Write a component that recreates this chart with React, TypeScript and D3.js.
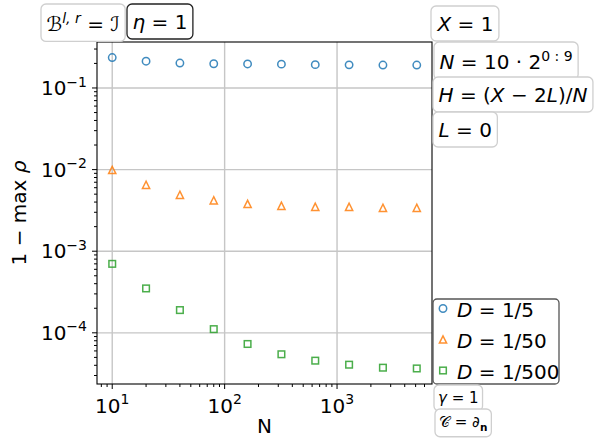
import { useEffect, useRef } from 'react';
import * as d3 from 'd3';

// N = 10 * 2^(0:9)
const nValues = [10, 20, 40, 80, 160, 320, 640, 1280, 2560, 5120];
const seriesLabels = ['1/5', '1/50', '1/500'];
const rhoD5 = [0.236, 0.213, 0.202, 0.198, 0.197, 0.196, 0.193, 0.192, 0.191, 0.191];
const rhoD50 = [0.0099, 0.0065, 0.0049, 0.0042, 0.0038, 0.0036, 0.0035, 0.0035, 0.0034, 0.0034];
const rhoD500 = [0.0007, 0.00035, 0.00019, 0.000111, 0.000073, 0.0000546, 0.0000456, 0.0000407, 0.0000374, 0.0000366];
const xTickExps = [1, 2, 3];
const yTickExps = [-1, -2, -3, -4];
const colors = ['#1f77b4', '#ff7f0e', '#2ca02c'];
const markers = ['circle', 'triangle', 'square'];

const FONT = 'DejaVu Sans';

type Part = { t: string; i?: boolean; sup?: boolean; sub?: boolean; b?: boolean };

function rich(sel: any, parts: Part[], fs: number) {
  let shift = 0;
  parts.forEach(p => {
    const target = p.sup ? -0.42 * fs : p.sub ? 0.25 * fs : 0;
    sel
      .append('tspan')
      .attr('dy', target - shift)
      .attr('font-size', p.sup || p.sub ? fs * 0.7 : fs)
      .attr('font-style', p.i ? 'italic' : 'normal')
      .attr('font-weight', p.b ? 'bold' : 'normal')
      .text(p.t);
    shift = target;
  });
}

function textBox(svg: any, bx: number, by: number, parts: Part[], fs: number, stroke: string, pad = 5.5) {
  const g = svg.append('g');
  const rect = g.append('rect');
  const txt = g
    .append('text')
    .attr('x', 0)
    .attr('y', 0)
    .attr('font-size', fs)
    .style('white-space', 'pre');
  rich(txt, parts, fs);
  const bb = txt.node().getBBox();
  rect
    .attr('x', bb.x - pad)
    .attr('y', bb.y - pad)
    .attr('width', bb.width + 2 * pad)
    .attr('height', bb.height + 2 * pad)
    .attr('rx', 5)
    .attr('fill', '#fff')
    .attr('stroke', stroke)
    .attr('stroke-width', 1.3);
  g.attr('transform', `translate(${bx - bb.x + pad},${by - bb.y + pad})`);
}

function drawMarker(g: any, kind: string, color: string, cx: number, cy: number) {
  if (kind === 'circle') {
    g.append('circle').attr('cx', cx).attr('cy', cy).attr('r', 3.7)
      .attr('fill', 'none').attr('stroke', color).attr('stroke-width', 1.5).attr('opacity', 0.85);
  } else if (kind === 'triangle') {
    const s = 3.6;
    g.append('path')
      .attr('d', `M${cx},${cy - s}L${cx - s},${cy + s}L${cx + s},${cy + s}Z`)
      .attr('fill', 'none').attr('stroke', color).attr('stroke-width', 1.5).attr('opacity', 0.85);
  } else {
    const s = 3.3;
    g.append('rect').attr('x', cx - s).attr('y', cy - s).attr('width', 2 * s).attr('height', 2 * s)
      .attr('fill', 'none').attr('stroke', color).attr('stroke-width', 1.5).attr('opacity', 0.85);
  }
}

function Chart() {
  const ref = useRef<SVGSVGElement>(null);

  useEffect(() => {
    const w = 598;
    const h = 446;
    const left = 97;
    const right = 432;
    const top = 42;
    const bottom = 384;

    const svg = d3.select(ref.current).attr('width', w).attr('height', h);
    svg.selectAll('*').remove();
    svg.attr('font-family', FONT);

    const series = [rhoD5, rhoD50, rhoD500];

    // matplotlib-style 5% margins in log space
    const lx = d3.extent(nValues.map(Math.log10)) as [number, number];
    const mx = (lx[1] - lx[0]) * 0.05;
    const ly = d3.extent(series.flat().map(Math.log10)) as [number, number];
    const my = (ly[1] - ly[0]) * 0.05;

    const x = d3.scaleLog().domain([10 ** (lx[0] - mx), 10 ** (lx[1] + mx)]).range([left, right]);
    const y = d3.scaleLog().domain([10 ** (ly[0] - my), 10 ** (ly[1] + my)]).range([bottom, top]);

    // grid
    const grid = svg.append('g').attr('stroke', '#c6c6c6').attr('stroke-width', 1.4);
    xTickExps.forEach(e => {
      grid.append('line').attr('x1', x(10 ** e)).attr('x2', x(10 ** e)).attr('y1', top).attr('y2', bottom);
    });
    yTickExps.forEach(e => {
      grid.append('line').attr('x1', left).attr('x2', right).attr('y1', y(10 ** e)).attr('y2', y(10 ** e));
    });

    // ticks
    const ticks = svg.append('g').attr('stroke', '#000').attr('stroke-width', 1);
    x.ticks().forEach(t => {
      const major = xTickExps.some(e => Math.abs(t - 10 ** e) < 1e-9);
      const len = major ? 5 : 3;
      ticks.append('line').attr('x1', x(t)).attr('x2', x(t)).attr('y1', bottom).attr('y2', bottom + len);
    });
    y.ticks().forEach(t => {
      const major = yTickExps.some(e => Math.abs(t / 10 ** e - 1) < 1e-9);
      const len = major ? 5 : 3;
      ticks.append('line').attr('x1', left - len).attr('x2', left).attr('y1', y(t)).attr('y2', y(t));
    });

    xTickExps.forEach(e => {
      const t = svg.append('text')
        .attr('x', x(10 ** e))
        .attr('y', 412.5)
        .attr('text-anchor', 'middle')
        .attr('font-size', 20);
      rich(t, [{ t: '10' }, { t: String(e), sup: true }], 20);
    });
    yTickExps.forEach(e => {
      const t = svg.append('text')
        .attr('x', 87)
        .attr('y', y(10 ** e) + 7)
        .attr('text-anchor', 'end')
        .attr('font-size', 20);
      rich(t, [{ t: '10' }, { t: '\u2212' + Math.abs(e), sup: true }], 20);
    });

    // axis labels
    svg.append('text')
      .attr('x', (left + right) / 2)
      .attr('y', 433)
      .attr('text-anchor', 'middle')
      .attr('font-size', 20)
      .text('N');
    const yl = svg.append('text')
      .attr('transform', `translate(26,${(top + bottom) / 2}) rotate(-90)`)
      .attr('text-anchor', 'middle')
      .attr('font-size', 20)
      .style('white-space', 'pre');
    rich(yl, [{ t: '1 \u2212 max ' }, { t: '\u03c1', i: true }], 20);

    // data
    const marks = svg.append('g');
    series.forEach((vals, si) => {
      vals.forEach((v, i) => drawMarker(marks, markers[si], colors[si], x(nValues[i]), y(v)));
    });

    // spines
    svg.append('rect')
      .attr('x', left).attr('y', top)
      .attr('width', right - left).attr('height', bottom - top)
      .attr('fill', 'none').attr('stroke', '#000').attr('stroke-width', 1.1);

    // annotation boxes
    const light = '#cfcfcf';
    textBox(svg, 41, 4, [{ t: '\u212c' }, { t: 'l, r', sup: true, i: true }, { t: ' = \u2110' }], 20, light);
    textBox(svg, 127, 4, [{ t: '\u03b7', i: true }, { t: ' = 1' }], 20, '#222');
    textBox(svg, 431, 6, [{ t: 'X', i: true }, { t: ' = 1' }], 20, light);
    textBox(svg, 434, 42, [{ t: 'N', i: true }, { t: ' = 10 \u00b7 2' }, { t: '0 : 9', sup: true }], 20, light);
    textBox(svg, 433, 77, [
      { t: 'H', i: true }, { t: ' = (' }, { t: 'X', i: true }, { t: ' \u2212 2' }, { t: 'L', i: true },
      { t: ')/' }, { t: 'N', i: true },
    ], 20, light);
    textBox(svg, 433, 112, [{ t: 'L', i: true }, { t: ' = 0' }], 20, light);

    // legend
    const lg = svg.append('g');
    lg.append('rect')
      .attr('x', 433).attr('y', 299).attr('width', 126).attr('height', 85)
      .attr('rx', 4).attr('fill', '#fff').attr('stroke', '#555').attr('stroke-width', 1.3);
    seriesLabels.forEach((lab, si) => {
      const cy = 308.5 + si * 31;
      drawMarker(lg, markers[si], colors[si], 443, cy);
      const t = lg.append('text').attr('x', 457).attr('y', cy + 8).attr('font-size', 20).style('white-space', 'pre');
      rich(t, [{ t: 'D', i: true }, { t: ' = ' + lab }], 20);
    });

    textBox(svg, 434, 385, [{ t: '\u03b3', i: true }, { t: ' = 1' }], 15, light, 4);
    textBox(svg, 435, 409, [{ t: '\ud835\udc9e' }, { t: ' = \u2202' }, { t: 'n', sub: true, b: true }], 15, light, 4);

    return () => {
      svg.selectAll('*').remove();
    };
  }, []);

  return <svg ref={ref} style={{ position: 'absolute', left: 0, top: 0 }} role="img" aria-label="1 - max rho vs N" />;
}

export default function App() {
  return <Chart />;
}
